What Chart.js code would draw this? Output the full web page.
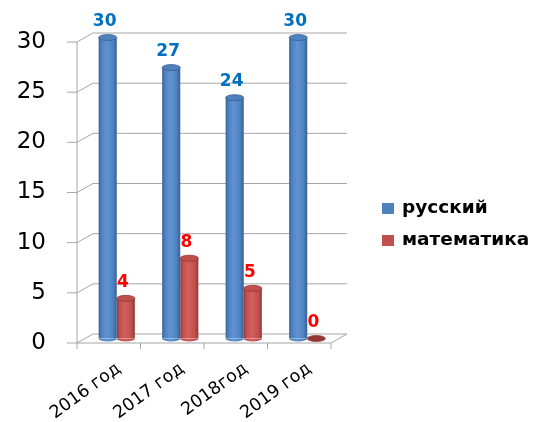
<!DOCTYPE html>
<html lang="ru">
<head>
<meta charset="UTF-8" />
<title>русский / математика</title>
<script src="https://cdn.jsdelivr.net/npm/chart.js"></script>
<style>
  html, body { margin: 0; padding: 0; background: #fff; }
  .wrap { width: 541px; height: 422px; position: relative; }
</style>
</head>
<body>
<div class="wrap"><canvas id="chartGod"></canvas></div>
<script>
const years = ["2016 год", "2017 год", "2018год", "2019 год"];
const russkiy = [30, 27, 24, 30];
const matem = [4, 8, 5, 0];
const yTicks = [0, 5, 10, 15, 20, 25, 30];

const catPct = 0.57;
const DX = 8, DY = 4.5; // псевдо-3D глубина

const blue = { base: "#4f81bd", dark: "#34609b", light: "#5f93d6", text: "#0070c0" };
const red = { base: "#c0504d", dark: "#943734", light: "#d3605d", text: "#ff0000" };
const pal = [blue, red];

function cylFill(col) {
  return (c) => {
    const chart = c.chart;
    const xs = chart.scales.x;
    if (!chart.chartArea || !xs || c.dataIndex === undefined) return col.base;
    const catW = (chart.chartArea.right - chart.chartArea.left) / years.length;
    const w = catW * catPct / 2;
    const cx = xs.getPixelForValue(c.dataIndex) + (c.datasetIndex === 0 ? -w / 2 : w / 2);
    const g = chart.ctx.createLinearGradient(cx - w / 2, 0, cx + w / 2, 0);
    g.addColorStop(0, col.dark);
    g.addColorStop(0.15, col.base);
    g.addColorStop(0.45, col.light);
    g.addColorStop(0.8, col.base);
    g.addColorStop(1, col.dark);
    return g;
  };
}

// стенки, оси, подписи
const walls = {
  id: "walls",
  beforeDatasetsDraw(chart) {
    const { ctx, chartArea: a, scales: { x, y } } = chart;
    const top = y.getPixelForValue(30), bot = y.getPixelForValue(0);
    ctx.save();
    ctx.strokeStyle = "#a6a6a6";
    ctx.lineWidth = 1;
    ctx.beginPath();
    yTicks.forEach(v => {
      const py = y.getPixelForValue(v);
      ctx.moveTo(a.left - DX - 10, py + DY);
      ctx.lineTo(a.left - DX, py + DY);
      ctx.lineTo(a.left + DX, py - DY);
      ctx.lineTo(a.right + DX, py - DY);
    });
    ctx.moveTo(a.left - DX, top + DY);
    ctx.lineTo(a.left - DX, bot + DY);
    ctx.lineTo(a.right - DX, bot + DY);
    ctx.lineTo(a.right + DX, bot - DY);
    for (let i = 0; i <= years.length; i++) {
      const px = a.left - DX + i * (a.right - a.left) / years.length;
      ctx.moveTo(px, bot + DY);
      ctx.lineTo(px, bot + DY + 6);
    }
    ctx.stroke();

    ctx.fillStyle = "#000";
    ctx.font = "23px 'DejaVu Sans'";
    ctx.textAlign = "right";
    ctx.textBaseline = "middle";
    yTicks.forEach(v => ctx.fillText(String(v), a.left - DX - 31, y.getPixelForValue(v) + DY));

    ctx.font = "17.5px 'DejaVu Sans'";
    years.forEach((lab, i) => {
      ctx.save();
      ctx.translate(x.getPixelForValue(i) + 2, bot + DY + 24);
      ctx.rotate(-36 * Math.PI / 180);
      ctx.textAlign = "right";
      ctx.textBaseline = "middle";
      ctx.fillText(lab, 0, 0);
      ctx.restore();
    });
    ctx.restore();
  }
};

// крышки цилиндров, значения, легенда
const cylinders = {
  id: "cylinders",
  afterDatasetsDraw(chart) {
    const ctx = chart.ctx;
    ctx.save();
    chart.data.datasets.forEach((ds, di) => {
      const col = pal[di];
      chart.getDatasetMeta(di).data.forEach((el, i) => {
        const { x, y, base, width } = el.getProps(["x", "y", "base", "width"], true);
        const r = width / 2;
        if (y < base) {
          ctx.fillStyle = el.options.backgroundColor;
          ctx.beginPath();
          ctx.ellipse(x, base, r, 3, 0, 0, Math.PI);
          ctx.fill();
        }
        ctx.fillStyle = y < base ? col.base : col.dark;
        ctx.strokeStyle = col.dark;
        ctx.lineWidth = 0.8;
        ctx.beginPath();
        ctx.ellipse(x, y, r, 3, 0, 0, 2 * Math.PI);
        ctx.fill();
        ctx.stroke();

        ctx.fillStyle = col.text;
        ctx.font = "bold 17px 'DejaVu Sans'";
        ctx.textAlign = "center";
        ctx.textBaseline = "middle";
        ctx.fillText(String(ds.data[i]), x - 3, y - 16);
      });
    });

    ctx.font = "bold 18.5px 'DejaVu Sans'";
    ctx.textAlign = "left";
    ctx.textBaseline = "middle";
    chart.data.datasets.forEach((ds, di) => {
      const ly = 208 + di * 32;
      ctx.fillStyle = pal[di].base;
      ctx.fillRect(382, ly - 5, 12, 11);
      ctx.fillStyle = "#000";
      ctx.fillText(ds.label, 402, ly);
    });
    ctx.restore();
  }
};

new Chart(document.getElementById("chartGod"), {
  type: "bar",
  data: {
    labels: years,
    datasets: [
      { label: "русский", data: russkiy, backgroundColor: cylFill(blue), borderWidth: 0 },
      { label: "математика", data: matem, backgroundColor: cylFill(red), borderWidth: 0 },
    ],
  },
  options: {
    responsive: true,
    maintainAspectRatio: false,
    animation: false,
    layout: { padding: { left: 85, right: 202, top: 37.5, bottom: 83.5 } },
    datasets: { bar: { categoryPercentage: catPct, barPercentage: 1 } },
    plugins: { legend: { display: false }, tooltip: { enabled: false } },
    scales: {
      x: { display: false },
      y: { display: false, min: 0, max: 30 },
    },
  },
  plugins: [walls, cylinders],
});
</script>
</body>
</html>
